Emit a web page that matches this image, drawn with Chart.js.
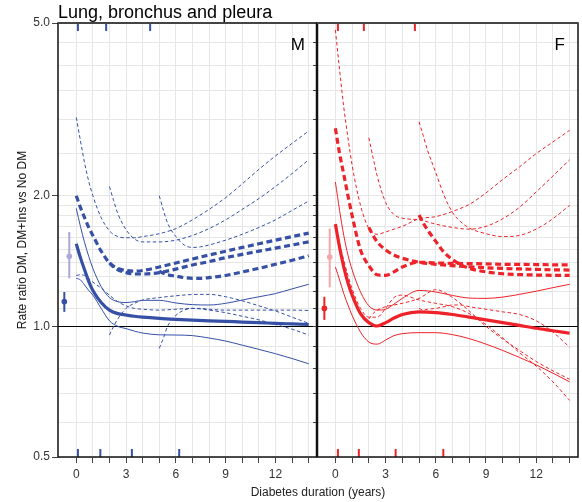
<!DOCTYPE html>
<html>
<head>
<meta charset="utf-8">
<script src="https://cdn.jsdelivr.net/npm/chart.js@4.4.1/dist/chart.umd.min.js"></script>
<style>
  body { margin: 0; background: #fff; }
  #wrap { position: relative; width: 582px; height: 502px; font-family: "Liberation Sans", Arial, sans-serif; }
  canvas { position: absolute; top: 0; }
  #cM { left: 0; }
  #cF { left: 310px; }
  .txt { position: absolute; white-space: nowrap; line-height: 1; color: #000; }
</style>
</head>
<body>
<div id="wrap">
  <canvas id="cM" width="321" height="502"></canvas>
  <canvas id="cF" width="272" height="502"></canvas>
  <div class="txt" style="left:58px;top:3px;font-size:18px">Lung, bronchus and pleura</div>
  <div class="txt" style="right:277px;top:36px;font-size:17px">M</div>
  <div class="txt" style="right:17px;top:36px;font-size:17px">F</div>
  <div class="txt" style="left:218px;width:200px;text-align:center;top:486px;font-size:12px;color:#222">Diabetes duration (years)</div>
</div>
<script>
// axis ticks
const xTickVals = [0, 1, 2, 3, 4, 5, 6, 7, 8, 9, 10, 11, 12, 13, 14];
const xLabelVals = [0, 3, 6, 9, 12];
const yGridVals = [0.5, 0.6, 0.7, 0.8, 0.9, 1.0, 1.1, 1.2, 1.3, 1.4, 1.5, 1.6, 1.7, 1.8, 1.9, 2.0, 2.5, 3.0, 3.5, 4.0, 4.5, 5.0];
const yLabelVals = [0.5, 1.0, 2.0, 5.0];
const yTitle = 'Rate ratio DM, DM+Ins vs No DM';

// durations (years) the curves are read at; B and C start with insulin later
const durA = [0, 0.25, 0.5, 0.75, 1, 1.5, 2, 2.5, 3, 3.5, 4, 5, 6, 7, 8, 9, 10, 11, 12, 13, 14];
const durB = [2, 2.25, 2.5, 3, 3.5, 4, 5, 6, 7, 8, 9, 10, 11, 12, 13, 14];
const durC = [5, 5.25, 5.5, 6, 6.5, 7, 7.5, 8, 9, 10, 11, 12, 13, 14];

// M: DM vs no DM (durA)
const mDm   = [1.55, 1.44, 1.35, 1.27, 1.21, 1.135, 1.09, 1.07, 1.062, 1.055, 1.05, 1.043, 1.038, 1.034, 1.03, 1.027, 1.023, 1.02, 1.016, 1.013, 1.01];
const mDmHi = [1.87, 1.7, 1.56, 1.45, 1.36, 1.235, 1.165, 1.14, 1.135, 1.14, 1.148, 1.148, 1.132, 1.122, 1.12, 1.13, 1.15, 1.17, 1.19, 1.22, 1.25];
const mDmLo = [1.29, 1.28, 1.245, 1.21, 1.18, 1.1, 1.03, 1.0, 0.988, 0.975, 0.965, 0.956, 0.955, 0.952, 0.94, 0.925, 0.905, 0.885, 0.865, 0.843, 0.82];
// M: DM+Ins, insulin from 0 (durA), 2 (durB), 5 (durC)
const mIns0   = [2.0, 1.88, 1.78, 1.69, 1.62, 1.49, 1.4, 1.36, 1.345, 1.34, 1.345, 1.37, 1.4, 1.43, 1.46, 1.49, 1.52, 1.55, 1.58, 1.61, 1.64];
const mIns0Hi = [3.03, 2.68, 2.38, 2.16, 2.0, 1.78, 1.66, 1.61, 1.6, 1.6, 1.61, 1.635, 1.68, 1.76, 1.86, 1.98, 2.13, 2.3, 2.47, 2.64, 2.82];
const mIns0Lo = [1.31, 1.315, 1.31, 1.29, 1.265, 1.225, 1.18, 1.14, 1.115, 1.1, 1.095, 1.09, 1.095, 1.1, 1.09, 1.075, 1.055, 1.035, 1.01, 0.985, 0.955];
const mIns2   = [1.4, 1.37, 1.35, 1.33, 1.32, 1.32, 1.33, 1.355, 1.385, 1.41, 1.44, 1.465, 1.49, 1.515, 1.54, 1.566];
const mIns2Hi = [2.1, 1.95, 1.82, 1.67, 1.59, 1.565, 1.565, 1.58, 1.62, 1.68, 1.76, 1.86, 1.97, 2.1, 2.25, 2.42];
const mIns2Lo = [0.955, 1.0, 1.04, 1.1, 1.13, 1.15, 1.165, 1.176, 1.184, 1.185, 1.17, 1.145, 1.115, 1.085, 1.05, 1.016];
const mIns5   = [1.34, 1.325, 1.315, 1.305, 1.295, 1.29, 1.29, 1.295, 1.31, 1.335, 1.36, 1.39, 1.42, 1.454];
const mIns5Hi = [2.0, 1.85, 1.73, 1.61, 1.54, 1.52, 1.525, 1.54, 1.58, 1.63, 1.69, 1.76, 1.85, 1.944];
const mIns5Lo = [0.89, 0.94, 1.0, 1.06, 1.09, 1.1, 1.1, 1.095, 1.09, 1.09, 1.09, 1.09, 1.09, 1.088];

// F: DM vs no DM (durA)
const fDm   = [1.72, 1.52, 1.37, 1.26, 1.18, 1.07, 1.02, 1.002, 1.02, 1.045, 1.065, 1.08, 1.076, 1.065, 1.05, 1.035, 1.02, 1.005, 0.99, 0.977, 0.964];
const fDmHi = [2.15, 1.85, 1.62, 1.46, 1.35, 1.2, 1.115, 1.09, 1.095, 1.125, 1.16, 1.21, 1.2, 1.178, 1.162, 1.16, 1.168, 1.185, 1.205, 1.228, 1.25];
const fDmLo = [1.37, 1.28, 1.19, 1.12, 1.06, 0.97, 0.92, 0.91, 0.93, 0.952, 0.962, 0.967, 0.967, 0.957, 0.937, 0.91, 0.88, 0.848, 0.815, 0.78, 0.745];
// F: DM+Ins
const fIns0   = [2.86, 2.5, 2.24, 2.0, 1.8, 1.5, 1.38, 1.315, 1.31, 1.335, 1.37, 1.405, 1.4, 1.397, 1.395, 1.393, 1.39, 1.389, 1.388, 1.386, 1.385];
const fIns0Hi = [4.82, 3.9, 3.2, 2.72, 2.35, 1.9, 1.68, 1.63, 1.65, 1.675, 1.7, 1.77, 1.79, 1.84, 1.91, 2.03, 2.18, 2.33, 2.5, 2.66, 2.83];
const fIns0Lo = [1.7, 1.55, 1.42, 1.31, 1.22, 1.1, 1.05, 1.05, 1.1, 1.165, 1.18, 1.15, 1.13, 1.11, 1.07, 1.01, 0.94, 0.87, 0.81, 0.745, 0.675];
const fIns2   = [1.69, 1.62, 1.565, 1.5, 1.46, 1.435, 1.405, 1.39, 1.38, 1.372, 1.365, 1.36, 1.356, 1.353, 1.35, 1.348];
const fIns2Hi = [2.72, 2.45, 2.22, 1.93, 1.81, 1.775, 1.76, 1.72, 1.69, 1.675, 1.7, 1.77, 1.88, 2.04, 2.22, 2.42];
const fIns2Lo = [1.04, 1.07, 1.09, 1.11, 1.12, 1.13, 1.16, 1.215, 1.165, 1.085, 1.0, 0.935, 0.88, 0.83, 0.79, 0.755];
const fIns5   = [1.805, 1.73, 1.67, 1.57, 1.48, 1.425, 1.385, 1.36, 1.335, 1.322, 1.316, 1.313, 1.311, 1.31];
const fIns5Hi = [2.96, 2.75, 2.55, 2.26, 2.0, 1.83, 1.74, 1.685, 1.635, 1.61, 1.62, 1.675, 1.77, 1.9];
const fIns5Lo = [1.1, 1.09, 1.095, 1.1, 1.11, 1.12, 1.12, 1.11, 1.095, 1.08, 1.065, 1.03, 0.97, 0.895];

// pre-diagnosis estimates: [DM, DM+Ins]
const mPreX = [-0.72, -0.42];
const mPreEst = [1.14, 1.45];
const mPreLo = [1.08, 1.29];
const mPreHi = [1.20, 1.65];
const fPreX = [-0.66, -0.34];
const fPreEst = [1.10, 1.445];
const fPreLo = [1.035, 1.23];
const fPreHi = [1.17, 1.68];

// rug marks
const mRugTop = [0.1, 1.8, 4.45];
const mRugBottom = [0.1, 1.45, 3.35, 6.2];
const fRugTop = [0.15, 1.7, 4.75];
const fRugBottom = [0.15, 1.4, 3.6, 6.45];

const BLUE = '#3550a5', LILAC = '#aba7d8';
const RED = '#ee2229', PINK = '#f5a5aa';
const GRID = '#e6e6e6';

const lineStyles = {
    est:   { borderWidth: 3.2, borderDash: [] },
    ci:    { borderWidth: 1, borderDash: [] },
    ins:   { borderWidth: 3.2, borderDash: [6, 3.5] },
    insCi: { borderWidth: 1, borderDash: [3.5, 2.5] }
};

function curve(xs, ys, color, kind) {
    return {
        data: xs.map((x, i) => ({ x: x, y: ys[i] })),
        borderColor: color,
        pointRadius: 0,
        fill: false,
        cubicInterpolationMode: 'monotone',
        ...lineStyles[kind]
    };
}

function prePoints(xs, ys, color) {
    return {
        data: xs.map((x, i) => ({ x: x, y: ys[i] })),
        showLine: false,
        pointRadius: 2.8,
        pointBorderWidth: 0,
        pointBackgroundColor: color
    };
}

// error bars, rugs and the panel frame
const panelDecor = {
    id: 'panelDecor',
    beforeDatasetsDraw(chart, args, opts) {
        const { ctx, scales: { x, y } } = chart;
        ctx.save();
        ctx.lineWidth = 2;
        opts.preX.forEach((v, i) => {
            const px = x.getPixelForValue(v);
            ctx.strokeStyle = opts.preColors[i];
            ctx.beginPath();
            ctx.moveTo(px, y.getPixelForValue(opts.preLo[i]));
            ctx.lineTo(px, y.getPixelForValue(opts.preHi[i]));
            ctx.stroke();
        });
        ctx.restore();
    },
    afterDatasetsDraw(chart, args, opts) {
        const { ctx, chartArea: a, scales: { x } } = chart;
        ctx.save();
        ctx.strokeStyle = opts.rugColor;
        ctx.lineWidth = 2;
        opts.rugTop.forEach(v => {
            const px = x.getPixelForValue(v);
            ctx.beginPath();
            ctx.moveTo(px, a.top);
            ctx.lineTo(px, a.top + 8);
            ctx.stroke();
        });
        opts.rugBottom.forEach(v => {
            const px = x.getPixelForValue(v);
            ctx.beginPath();
            ctx.moveTo(px, a.bottom);
            ctx.lineTo(px, a.bottom - 8);
            ctx.stroke();
        });

        ctx.strokeStyle = '#111';
        ctx.lineWidth = 1.5;
        ctx.strokeRect(a.left, a.top, a.right - a.left, a.bottom - a.top);
        if (opts.thickLeft) {
            ctx.lineWidth = 2.5;
            ctx.beginPath();
            ctx.moveTo(a.left, a.top);
            ctx.lineTo(a.left, a.bottom);
            ctx.stroke();
        }
        ctx.strokeStyle = '#444';
        ctx.lineWidth = 2;
        ctx.beginPath();
        ctx.moveTo(a.left, a.top);
        ctx.lineTo(a.right, a.top);
        ctx.stroke();
        ctx.restore();
    }
};

function makePanel(id, p) {
    const c = p.color;
    const datasets = [
        prePoints(p.preX, p.preEst, p.preColors),
        curve(durA, p.dm, c, 'est'),
        curve(durA, p.dmHi, c, 'ci'),
        curve(durA, p.dmLo, c, 'ci'),
        curve(durA, p.ins0, c, 'ins'),
        curve(durB, p.ins2, c, 'ins'),
        curve(durC, p.ins5, c, 'ins'),
        curve(durA, p.ins0Hi, c, 'insCi'),
        curve(durA, p.ins0Lo, c, 'insCi'),
        curve(durB, p.ins2Hi, c, 'insCi'),
        curve(durB, p.ins2Lo, c, 'insCi'),
        curve(durC, p.ins5Hi, c, 'insCi'),
        curve(durC, p.ins5Lo, c, 'insCi')
    ];
    const tickFont = { family: '"Liberation Sans", Arial, sans-serif', size: 12 };

    return new Chart(document.getElementById(id), {
        type: 'line',
        data: { datasets: datasets },
        options: {
            responsive: false,
            animation: false,
            devicePixelRatio: 1,
            layout: { padding: { top: 23, right: p.padRight, bottom: 0, left: 0 } },
            plugins: {
                legend: { display: false },
                tooltip: { enabled: false },
                panelDecor: {
                    preX: p.preX, preLo: p.preLo, preHi: p.preHi, preColors: p.preColors,
                    rugTop: p.rugTop, rugBottom: p.rugBottom, rugColor: c,
                    thickLeft: !p.labels
                }
            },
            scales: {
                x: {
                    type: 'linear',
                    min: -1.1,
                    max: 14.5,
                    afterBuildTicks: s => { s.ticks = xTickVals.map(v => ({ value: v })); },
                    afterFit: s => { s.height = 45; },
                    ticks: {
                        autoSkip: false,
                        maxRotation: 0,
                        padding: 4,
                        color: '#333',
                        font: tickFont,
                        callback: v => xLabelVals.includes(v) ? String(v) : ''
                    },
                    grid: { color: GRID, lineWidth: 1, tickLength: 6, tickColor: '#444' },
                    border: { display: false }
                },
                y: {
                    type: 'logarithmic',
                    min: 0.5,
                    max: 5,
                    afterBuildTicks: s => { s.ticks = yGridVals.map(v => ({ value: v })); },
                    afterFit: s => { s.width = p.yWidth; },
                    ticks: {
                        display: p.labels,
                        autoSkip: false,
                        padding: 2,
                        color: '#333',
                        font: tickFont,
                        callback: v => yLabelVals.includes(v) ? v.toFixed(1) : ''
                    },
                    grid: {
                        color: ctx => (ctx.tick && ctx.tick.value === 1) ? '#000' : GRID,
                        lineWidth: 1,
                        tickLength: p.labels ? 6 : 4,
                        tickColor: ctx => (!p.labels || yLabelVals.includes(ctx.tick.value)) ? '#444' : 'rgba(0,0,0,0)'
                    },
                    border: { display: false },
                    title: {
                        display: p.labels,
                        text: yTitle,
                        color: '#111',
                        font: tickFont,
                        padding: { top: 15, bottom: 0 }
                    }
                }
            }
        },
        plugins: [panelDecor]
    });
}

makePanel('cM', {
    color: BLUE, labels: true, yWidth: 58, padRight: 1,
    dm: mDm, dmHi: mDmHi, dmLo: mDmLo,
    ins0: mIns0, ins0Hi: mIns0Hi, ins0Lo: mIns0Lo,
    ins2: mIns2, ins2Hi: mIns2Hi, ins2Lo: mIns2Lo,
    ins5: mIns5, ins5Hi: mIns5Hi, ins5Lo: mIns5Lo,
    preX: mPreX, preEst: mPreEst, preLo: mPreLo, preHi: mPreHi, preColors: [BLUE, LILAC],
    rugTop: mRugTop, rugBottom: mRugBottom
});

makePanel('cF', {
    color: RED, labels: false, yWidth: 7, padRight: 4,
    dm: fDm, dmHi: fDmHi, dmLo: fDmLo,
    ins0: fIns0, ins0Hi: fIns0Hi, ins0Lo: fIns0Lo,
    ins2: fIns2, ins2Hi: fIns2Hi, ins2Lo: fIns2Lo,
    ins5: fIns5, ins5Hi: fIns5Hi, ins5Lo: fIns5Lo,
    preX: fPreX, preEst: fPreEst, preLo: fPreLo, preHi: fPreHi, preColors: [RED, PINK],
    rugTop: fRugTop, rugBottom: fRugBottom
});
</script>
</body>
</html>
